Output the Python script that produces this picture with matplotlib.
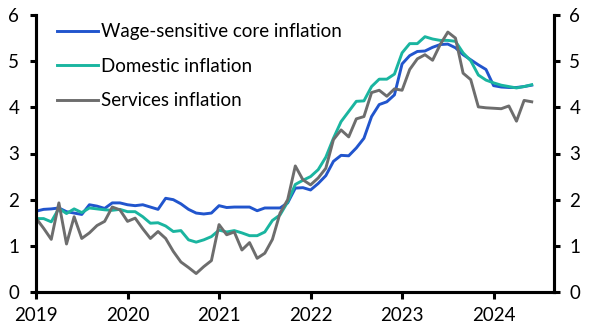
import matplotlib
matplotlib.use("Agg")
import matplotlib.pyplot as plt
import numpy as np

plt.rcParams["font.family"] = ["Lato", "DejaVu Sans"]

# monthly readings, Jan 2019 - Jun 2024 (% y/y)
wage = [1.75, 1.79, 1.80, 1.82, 1.74, 1.71, 1.68, 1.89, 1.86, 1.81, 1.93, 1.93,
        1.89, 1.87, 1.89, 1.84, 1.79, 2.03, 2.00, 1.91, 1.79, 1.71, 1.69, 1.71,
        1.87, 1.83, 1.84, 1.84, 1.84, 1.76, 1.82, 1.82, 1.82, 1.93, 2.25, 2.26,
        2.21, 2.35, 2.52, 2.83, 2.96, 2.95, 3.12, 3.33, 3.80, 4.06, 4.12, 4.27,
        4.94, 5.12, 5.21, 5.22, 5.30, 5.36, 5.37, 5.29, 5.14, 5.03, 4.92, 4.82,
        4.47, 4.44, 4.43, 4.43, 4.45, 4.48]
domestic = [1.59, 1.59, 1.52, 1.81, 1.70, 1.80, 1.72, 1.82, 1.80, 1.78, 1.77, 1.79,
            1.74, 1.74, 1.63, 1.49, 1.50, 1.43, 1.31, 1.33, 1.13, 1.08, 1.13, 1.20,
            1.34, 1.30, 1.33, 1.28, 1.22, 1.22, 1.30, 1.55, 1.67, 1.95, 2.33, 2.42,
            2.50, 2.65, 2.92, 3.33, 3.69, 3.91, 4.13, 4.14, 4.45, 4.61, 4.61, 4.72,
            5.18, 5.38, 5.38, 5.53, 5.48, 5.45, 5.45, 5.43, 5.18, 5.01, 4.70, 4.59,
            4.53, 4.48, 4.45, 4.42, 4.45, 4.49]
services = [1.60, 1.38, 1.14, 1.93, 1.04, 1.63, 1.16, 1.28, 1.44, 1.53, 1.84, 1.78,
            1.53, 1.60, 1.37, 1.16, 1.31, 1.16, 0.88, 0.65, 0.53, 0.40, 0.55, 0.68,
            1.46, 1.24, 1.30, 0.91, 1.07, 0.73, 0.84, 1.14, 1.71, 2.00, 2.73, 2.43,
            2.32, 2.47, 2.68, 3.30, 3.51, 3.36, 3.75, 3.80, 4.32, 4.37, 4.24, 4.40,
            4.37, 4.82, 5.05, 5.14, 5.02, 5.36, 5.63, 5.50, 4.74, 4.60, 4.01, 3.99,
            3.98, 3.97, 4.03, 3.70, 4.15, 4.12]

x = 2019 + np.arange(len(wage)) / 12
years = [2019, 2020, 2021, 2022, 2023, 2024]
yticks = [0, 1, 2, 3, 4, 5, 6]

fig = plt.figure(figsize=(5.91, 3.31), dpi=100)
ax = fig.add_axes([36 / 591, 1 - 292 / 331, 518 / 591, 277 / 331])

ax.plot(x, wage, color="#2155cd", lw=2.1, label="Wage-sensitive core inflation")
ax.plot(x, domestic, color="#1ab5a0", lw=2.1, label="Domestic inflation")
ax.plot(x, services, color="#6d6d6d", lw=2.1, label="Services inflation")

ax.set_xlim(2019, 2024.66)
ax.set_ylim(0, 6)
ax.set_xticks(years)
ax.set_xticklabels([str(y) for y in years])
ax.set_yticks(yticks)

ax2 = ax.twinx()
ax2.set_ylim(0, 6)
ax2.set_yticks(yticks)

for a in (ax, ax2):
    a.spines["top"].set_visible(False)
    for s in ("left", "right", "bottom"):
        a.spines[s].set_linewidth(2.2)
ax.tick_params(axis="x", length=5, width=2.2, pad=6, labelsize=13.5)
ax.tick_params(axis="y", length=4, width=2.2, pad=8, labelsize=13.5)
ax2.tick_params(axis="y", length=4, width=2.2, pad=7, labelsize=13.5)

ax.legend(loc="upper left", bbox_to_anchor=(0.04, 0.97), frameon=False,
          fontsize=13.5, handlelength=2.2, handletextpad=0.15,
          labelspacing=0.93, borderpad=0, borderaxespad=0)

fig.savefig("out.png", dpi=100)
